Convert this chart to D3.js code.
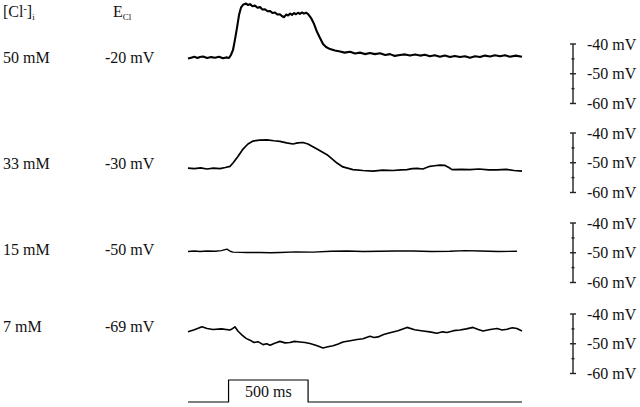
<!DOCTYPE html>
<html>
<head>
<meta charset="utf-8">
<script src="https://cdn.jsdelivr.net/npm/d3@7"></script>
<style>
  body { margin: 0; background: #fff; }
  svg { display: block; font-family: "Liberation Serif", "Times New Roman", serif; }
  .trace { fill: none; stroke: #000; stroke-linejoin: round; }
  .bar line { stroke: #222; stroke-width: 1.4; }
  text { fill: #111; }
</style>
</head>
<body>
<div id="chart"></div>
<script>
// rows: internal chloride and its reversal potential
var chlorideLabels = ["50 mM", "33 mM", "15 mM", "7 mM"];
var eclLabels = ["-20 mV", "-30 mV", "-50 mV", "-69 mV"];
var scaleTicks = [-40, -45, -50, -55, -60];
var scaleLabels = ["-40 mV", "-50 mV", "-60 mV"];

// traces as [time ms, membrane potential mV]
var trace50 = [[0,-44.9],[20,-44.6],[40,-44.3],[60,-44.7],[75,-44.4],[95,-44.2],[120,-44.7],[145,-44.4],[170,-44.6],[195,-44.3],[220,-44.8],[240,-44.5],[258,-44.7],[270,-43.7],[283,-42.0],[295,-38.6],[308,-34.6],[321,-30.2],[333,-27.8],[346,-26.8],[365,-26.4],[378,-26.9],[390,-26.6],[405,-27.3],[421,-27.1],[437,-27.8],[453,-27.6],[468,-28.4],[484,-28.3],[500,-29.0],[516,-28.9],[531,-29.6],[547,-29.4],[562,-30.1],[578,-30.0],[590,-30.6],[604,-31.0],[617,-30.1],[629,-30.4],[642,-29.8],[654,-30.2],[667,-29.6],[679,-30.0],[692,-29.5],[704,-29.9],[717,-29.4],[729,-29.8],[742,-29.5],[754,-29.9],[773,-31.2],[792,-33.2],[811,-35.9],[830,-38.0],[849,-40.0],[868,-41.0],[893,-41.7],[924,-42.2],[956,-42.5],[985,-42.9],[1019,-42.6],[1050,-43.2],[1081,-42.9],[1112,-43.4],[1144,-43.0],[1175,-43.4],[1207,-43.1],[1240,-43.7],[1270,-43.4],[1300,-44.0],[1333,-43.7],[1365,-43.5],[1396,-43.9],[1428,-43.5],[1459,-43.9],[1490,-43.6],[1521,-44.1],[1552,-43.8],[1584,-44.3],[1615,-43.9],[1647,-44.4],[1678,-44.0],[1710,-44.4],[1741,-44.1],[1773,-44.6],[1805,-44.1],[1836,-44.4],[1867,-43.9],[1899,-44.2],[1930,-43.8],[1962,-44.1],[1993,-43.8],[2024,-44.3],[2060,-43.9],[2100,-44.3]];
var trace33 = [[0,-51.8],[40,-52.0],[80,-51.7],[119,-52.1],[160,-51.8],[201,-52.0],[235,-51.6],[264,-51.2],[283,-50.1],[314,-47.9],[346,-45.4],[377,-43.7],[409,-42.7],[450,-42.4],[497,-42.3],[540,-42.6],[578,-42.8],[620,-43.3],[660,-43.7],[690,-43.3],[723,-43.2],[754,-43.7],[811,-45.4],[874,-47.3],[937,-50.1],[974,-51.4],[1037,-52.3],[1100,-52.6],[1163,-52.8],[1225,-52.5],[1289,-52.6],[1340,-52.4],[1377,-52.3],[1410,-52.0],[1440,-51.9],[1477,-52.1],[1500,-51.6],[1521,-51.2],[1550,-51.0],[1584,-50.8],[1616,-50.9],[1640,-51.6],[1660,-52.3],[1720,-52.2],[1773,-52.3],[1830,-52.1],[1890,-52.4],[1943,-52.4],[2000,-52.2],[2050,-52.6],[2100,-52.8]];
var trace15 = [[0,-49.6],[40,-49.4],[75,-49.6],[120,-49.4],[170,-49.5],[210,-49.3],[245,-48.8],[265,-49.5],[283,-49.8],[370,-49.9],[453,-49.9],[520,-50.0],[578,-49.9],[680,-49.7],[786,-49.8],[900,-49.5],[1000,-49.4],[1100,-49.6],[1207,-49.5],[1310,-49.4],[1415,-49.4],[1530,-49.6],[1647,-49.5],[1740,-49.3],[1836,-49.4],[1950,-49.6],[2068,-49.5]];
var trace7 = [[0,-46.0],[40,-45.3],[88,-44.3],[120,-44.9],[157,-45.2],[210,-45.0],[264,-45.4],[280,-44.9],[295,-44.3],[315,-45.8],[340,-47.1],[365,-48.2],[390,-48.8],[415,-49.6],[440,-49.3],[472,-50.3],[495,-50.0],[516,-50.5],[545,-49.8],[578,-49.2],[610,-49.7],[641,-49.6],[670,-49.2],[704,-49.4],[735,-49.6],[767,-49.9],[808,-50.6],[849,-51.4],[880,-51.0],[912,-50.7],[945,-50.1],[974,-49.4],[1020,-49.0],[1063,-48.6],[1100,-48.3],[1144,-47.5],[1170,-47.9],[1195,-47.7],[1230,-46.9],[1270,-46.3],[1320,-45.6],[1377,-44.5],[1425,-45.3],[1477,-45.7],[1520,-46.0],[1565,-46.5],[1600,-46.0],[1628,-46.2],[1670,-45.6],[1710,-45.4],[1750,-45.0],[1792,-44.5],[1825,-45.2],[1855,-45.7],[1900,-45.2],[1943,-44.9],[1975,-45.4],[2006,-45.1],[2040,-44.6],[2068,-44.9],[2100,-45.7]];

// stimulus protocol: 500 ms pulse
var stimulus = [[0,0],[255,0],[255,1],[755,1],[755,0],[2100,0]];
var stimulusLabel = "500 ms";

(function() {
  var width = 640, height = 407;
  var traces = [trace50, trace33, trace15, trace7];
  var panelTop = [44, 133, 223, 314];
  var panelHeight = 59.5;
  var labelY = [63, 169, 255, 332];
  var strokeW = [2.1, 1.7, 1.4, 1.6];
  var barX = 573;

  var svg = d3.select("#chart").append("svg").attr("width", width).attr("height", height);

  var x = d3.scaleLinear().domain([0, 2100]).range([188, 522]);

  // column headers
  var h1 = svg.append("text").attr("x", 3).attr("y", 17).style("font-size", "16px");
  h1.append("tspan").text("[Cl");
  h1.append("tspan").attr("dy", -5).style("font-size", "10px").text("-");
  h1.append("tspan").attr("dy", 5).text("]");
  h1.append("tspan").attr("dy", 3).style("font-size", "9px").text("i");

  var h2 = svg.append("text").attr("x", 113).attr("y", 17).style("font-size", "16px");
  h2.append("tspan").text("E");
  h2.append("tspan").attr("dy", 3).style("font-size", "9px").text("Cl");

  traces.forEach(function(data, i) {
    var y = d3.scaleLinear().domain([-40, -60]).range([panelTop[i], panelTop[i] + panelHeight]);
    var line = d3.line().x(function(d) { return x(d[0]); }).y(function(d) { return y(d[1]); });

    svg.append("path").datum(data).attr("class", "trace").attr("stroke-width", strokeW[i]).attr("d", line);

    svg.append("text").attr("x", 3).attr("y", labelY[i]).style("font-size", "16px").text(chlorideLabels[i]);
    svg.append("text").attr("x", 105).attr("y", labelY[i]).style("font-size", "16px").text(eclLabels[i]);

    // vertical calibration bar
    var bar = svg.append("g").attr("class", "bar");
    bar.append("line").attr("x1", barX).attr("x2", barX).attr("y1", y(-40)).attr("y2", y(-60));
    bar.selectAll(".tick").data(scaleTicks).enter().append("line")
      .attr("x1", function(d) { return d % 10 === 0 ? barX - 3 : barX - 1.5; })
      .attr("x2", function(d) { return d % 10 === 0 ? barX + 3 : barX + 1.5; })
      .attr("y1", function(d) { return y(d); })
      .attr("y2", function(d) { return y(d); });
    bar.selectAll("text").data(scaleLabels).enter().append("text")
      .attr("x", 587)
      .attr("y", function(d, j) { return y(-40 - 10 * j); })
      .attr("dy", "0.35em")
      .style("font-size", "16px")
      .text(function(d) { return d; });
  });

  // stimulus trace
  var ys = d3.scaleLinear().domain([0, 1]).range([402, 380]);
  var stimLine = d3.line().x(function(d) { return x(d[0]); }).y(function(d) { return ys(d[1]); });
  svg.append("path").datum(stimulus).attr("class", "trace").attr("stroke-width", 1.2).attr("d", stimLine);
  svg.append("text").attr("x", x(505)).attr("y", 397).attr("text-anchor", "middle").style("font-size", "16px").text(stimulusLabel);
}).call(this);
</script>
</body>
</html>
